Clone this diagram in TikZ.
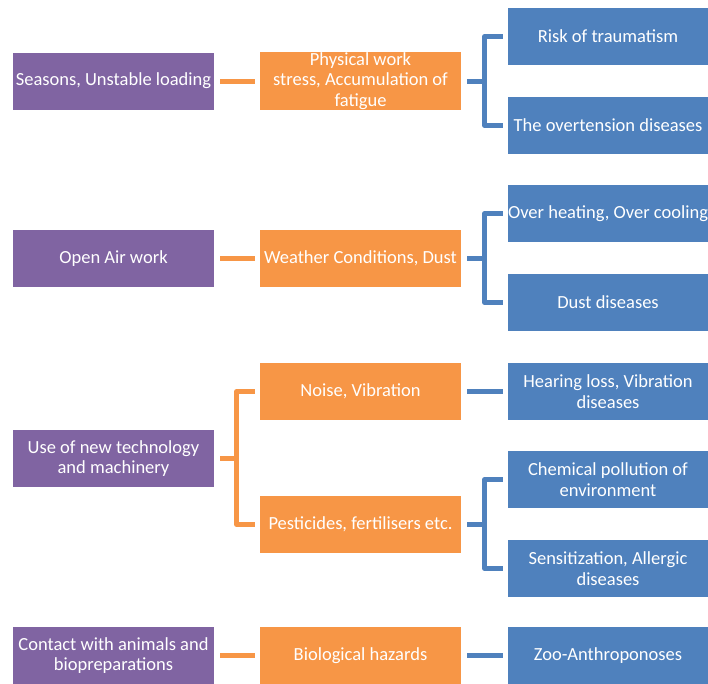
\documentclass[tikz,border=0pt]{standalone}
\usepackage{fontspec}
\setmainfont{Carlito}
\definecolor{cpurple}{HTML}{8064A2}
\definecolor{corange}{HTML}{F79646}
\definecolor{cblue}{HTML}{4F81BD}
\begin{document}
\begin{tikzpicture}[x=1pt,y=-1pt,
  box/.style={minimum width=201pt, minimum height=57pt, inner sep=0pt, text=white, align=center, font=\fontsize{18.5}{20.5}\selectfont},
  pbox/.style={box, fill=cpurple},
  obox/.style={box, fill=corange},
  bbox/.style={box, fill=cblue, minimum width=200pt},
  oline/.style={draw=corange, line width=5pt, line join=round},
  bline/.style={draw=cblue, line width=5pt, line join=round}]
\useasboundingbox (0,0) rectangle (708,683);
\clip (0,0) rectangle (708,683);
% row 1
\node[pbox] (p1) at (113.5,81) {Seasons, Unstable loading};
\node[obox] (o1) at (360.5,81) {Physical work\\stress, Accumulation of\\fatigue};
\node[bbox] (b1) at (608,36.5) {Risk of traumatism};
\node[bbox] (b2) at (608,125.5) {The overtension diseases};
% row 2
\node[pbox] (p2) at (113.5,258.5) {Open Air work};
\node[obox] (o2) at (360.5,258.5) {Weather Conditions, Dust};
\node[bbox] (b3) at (608,213.5) {Over heating, Over cooling};
\node[bbox] (b4) at (608,302.5) {Dust diseases};
% row 3
\node[pbox] (p3) at (113.5,458.5) {Use of new technology\\and machinery};
\node[obox] (o3) at (360.5,391.5) {Noise, Vibration};
\node[obox] (o4) at (360.5,524.5) {Pesticides, fertilisers etc.};
\node[bbox] (b5) at (608,391.5) {Hearing loss, Vibration\\diseases};
\node[bbox] (b6) at (608,479.5) {Chemical pollution of\\environment};
\node[bbox] (b7) at (608,568.5) {Sensitization, Allergic\\diseases};
% row 4
\node[pbox] (p4) at (113.5,655.5) {Contact with animals and\\biopreparations};
\node[obox] (o5) at (360.5,655.5) {Biological hazards};
\node[bbox] (b8) at (608,655.5) {Zoo-Anthroponoses};
% connectors purple -> orange
\draw[oline] ([xshift=6pt]p1.east) -- ([xshift=-5pt]o1.west);
\draw[oline] ([xshift=6pt]p2.east) -- ([xshift=-5pt]o2.west);
\draw[oline] ([xshift=6pt]p4.east) -- ([xshift=-5pt]o5.west);
\draw[oline] ([xshift=6pt]p3.east) -- ++(18,0);
\draw[oline] ([xshift=-5pt]o3.west) -- ++(-18,0) |- ([xshift=-5pt]o4.west);
% connectors orange -> blue
\draw[bline] ([xshift=6pt]o1.east) -- ++(18,0);
\draw[bline] ([xshift=-5pt]b1.west) -- ++(-18,0) |- ([xshift=-5pt]b2.west);
\draw[bline] ([xshift=6pt]o2.east) -- ++(18,0);
\draw[bline] ([xshift=-5pt]b3.west) -- ++(-18,0) |- ([xshift=-5pt]b4.west);
\draw[bline] ([xshift=6pt]o3.east) -- ([xshift=-5pt]b5.west);
\draw[bline] ([xshift=6pt]o4.east) -- ++(18,0);
\draw[bline] ([xshift=-5pt]b6.west) -- ++(-18,0) |- ([xshift=-5pt]b7.west);
\draw[bline] ([xshift=6pt]o5.east) -- ([xshift=-5pt]b8.west);
\end{tikzpicture}
\end{document}
